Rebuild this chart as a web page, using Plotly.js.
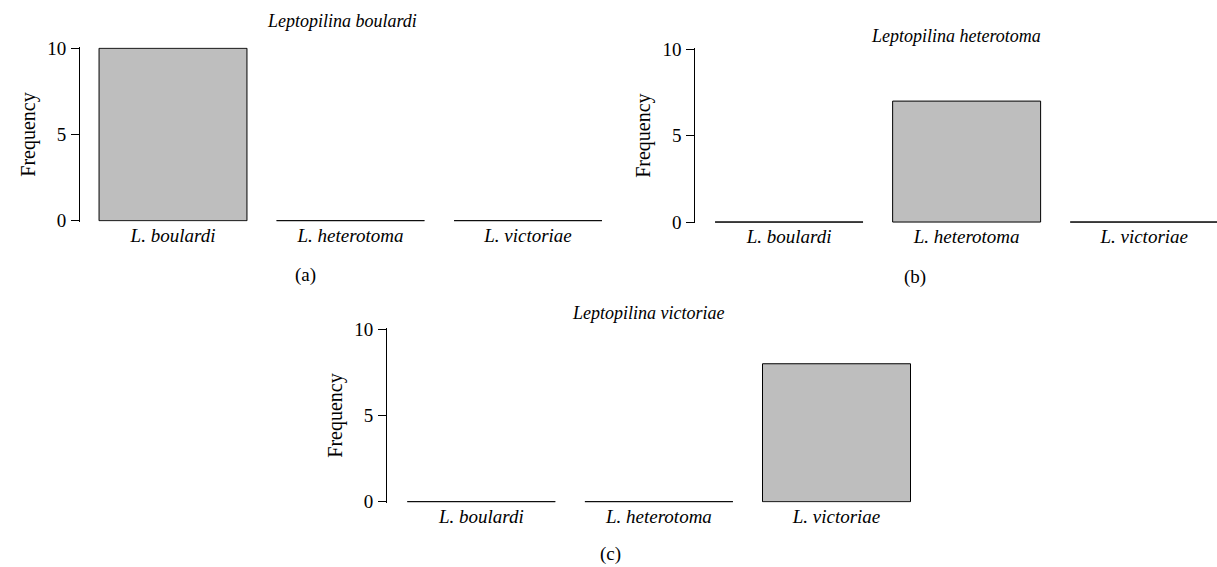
<!DOCTYPE html>
<html>
<head>
<meta charset="utf-8">
<script src="https://cdn.plot.ly/plotly-3.0.1.min.js"></script>
<style>html,body{margin:0;padding:0;background:#fff;}#chart{width:1217px;height:567px;}</style>
</head>
<body>
<div id="chart"></div>
<script>
// ---- data ----
const categories = ['L. boulardi', 'L. heterotoma', 'L. victoriae'];
const freqBoulardi = [10, 0, 0];
const freqHeterotoma = [0, 7, 0];
const freqVictoriae = [0, 0, 8];
const panelTitles = ['Leptopilina boulardi', 'Leptopilina heterotoma', 'Leptopilina victoriae'];
const panelLabels = ['(a)', '(b)', '(c)'];
const yTicks = [0, 5, 10];
const yTitle = 'Frequency';

const serif = 'Liberation Serif, Times New Roman, serif';
const W = 1217, H = 567;
const px = v => v / W;
const py = v => 1 - v / H;

const series = [freqBoulardi, freqHeterotoma, freqVictoriae];
const axisIds = ['', '2', '3'];

const traces = series.map((vals, i) => ({
  type: 'bar',
  x: categories,
  y: vals,
  xaxis: 'x' + axisIds[i],
  yaxis: 'y' + axisIds[i],
  marker: {color: '#bebebe', line: {color: '#000', width: 1}},
  hoverinfo: 'x+y',
  showlegend: false
}));

function xAxis(domain, range, anchor) {
  return {
    domain: domain, range: range, type: 'category', anchor: anchor,
    showline: false, showgrid: false, zeroline: false,
    ticks: '', ticklen: 0,
    tickfont: {family: serif, size: 19, color: '#000', style: 'italic'},
    fixedrange: true
  };
}
function yAxis(domain, anchor) {
  return {
    domain: domain, range: [-0.05, 10.05], anchor: anchor,
    showline: true, linecolor: '#000', linewidth: 1,
    showgrid: false, zeroline: false,
    ticks: 'outside', ticklen: 8, tickwidth: 1, tickcolor: '#000',
    tickvals: yTicks, ticktext: yTicks.map(String),
    tickfont: {family: serif, size: 19, color: '#000'},
    ticklabelstandoff: 1,
    title: {text: yTitle, font: {family: serif, size: 20, color: '#000'}, standoff: 6},
    fixedrange: true
  };
}

const layout = {
  width: W, height: H,
  margin: {l: 0, r: 0, t: 0, b: 0},
  paper_bgcolor: '#fff', plot_bgcolor: '#fff',
  bargap: 0.1667,
  showlegend: false,
  xaxis:  xAxis([px(80), px(616.75)], [-0.524, 2.5], 'y'),
  yaxis:  yAxis([py(221.6), py(47.4)], 'x'),
  xaxis2: xAxis([px(695.3), 1], [-0.528, 2.41], 'y2'),
  yaxis2: yAxis([py(222.9), py(48.4)], 'x2'),
  xaxis3: xAxis([px(387), px(925.3)], [-0.531, 2.5], 'y3'),
  yaxis3: yAxis([py(502.6), py(328.4)], 'x3'),
  annotations: []
};

const titlePos = [[342, 21], [956, 36], [648, 313]];
const labelPos = [[305, 275], [915, 277], [610, 554]];
panelTitles.forEach((t, i) => {
  layout.annotations.push({
    text: t, xref: 'paper', yref: 'paper',
    x: px(titlePos[i][0]), y: py(titlePos[i][1]),
    xanchor: 'center', yanchor: 'middle', showarrow: false,
    font: {family: serif, size: 18, color: '#000', style: 'italic'}
  });
  layout.annotations.push({
    text: panelLabels[i], xref: 'paper', yref: 'paper',
    x: px(labelPos[i][0]), y: py(labelPos[i][1]),
    xanchor: 'center', yanchor: 'middle', showarrow: false,
    font: {family: serif, size: 19, color: '#000'}
  });
});

Plotly.newPlot('chart', traces, layout, {displayModeBar: false, staticPlot: true});
</script>
</body>
</html>
